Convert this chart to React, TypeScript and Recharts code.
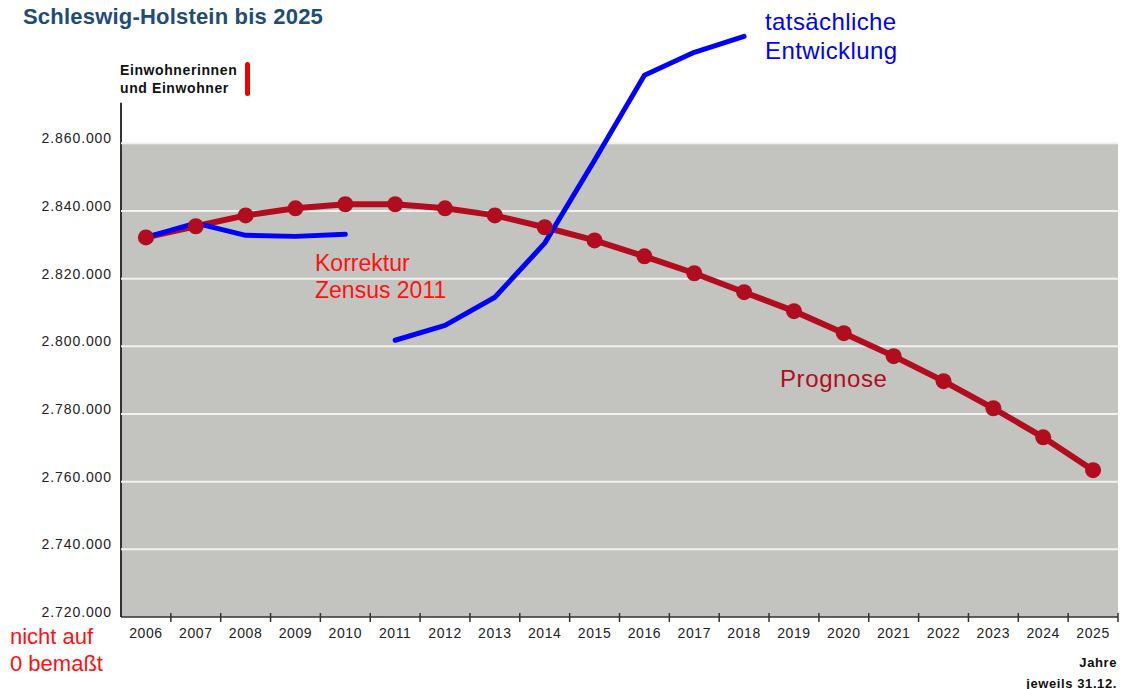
import React from "react";
import {
  LineChart,
  Line,
  XAxis,
  YAxis,
  ReferenceArea,
  ReferenceLine,
} from "recharts";

const years = [
  2006, 2007, 2008, 2009, 2010, 2011, 2012, 2013, 2014, 2015,
  2016, 2017, 2018, 2019, 2020, 2021, 2022, 2023, 2024, 2025,
];

// Prognose (dark red line with dots)
const prognose = [
  2832200, 2835500, 2838700, 2840800, 2842000, 2842000, 2840800, 2838700, 2835200, 2831300,
  2826600, 2821600, 2816000, 2810400, 2803900, 2797100, 2789700, 2781700, 2773100, 2763400,
];

// tatsächliche Entwicklung, before the census correction
const actualBefore = [
  2832200, 2836400, 2832800, 2832500, 2833100, null, null, null, null, null,
  null, null, null, null, null, null, null, null, null, null,
];

// tatsächliche Entwicklung, after Zensus 2011
const actualAfter = [
  null, null, null, null, null, 2801800, 2806200, 2814500, 2830500, 2855000,
  2880100, 2886900, 2891600, null, null, null, null, null, null, null,
];

const yTicks = [2720000, 2740000, 2760000, 2780000, 2800000, 2820000, 2840000, 2860000];
const gridValues = [2740000, 2760000, 2780000, 2800000, 2820000, 2840000, 2860000];

const data = years.map((year, i) => ({
  year,
  prognose: prognose[i],
  actualBefore: actualBefore[i],
  actualAfter: actualAfter[i],
}));

const W = 1124;
const H = 689;
const margin = { top: 8, right: 6, left: 8, bottom: 42 };
const yAxisWidth = 113;
const halfBand = (W - margin.left - margin.right - yAxisWidth) / years.length / 2;

const RED = "#b10d1f";
const BLUE = "#0000ff";
const TEXT_RED = "#ff1111";
const FONT = "'Liberation Sans', Arial, sans-serif";

const fmt = (v: number) => String(v).replace(/\B(?=(\d{3})+(?!\d))/g, ".");

const YearTick = ({ x, y, payload }: any) => (
  <g>
    <line x1={x + halfBand} x2={x + halfBand} y1={y - 4} y2={y + 5} stroke="#333" strokeWidth={1.5} />
    <text x={x} y={y + 16} textAnchor="middle" dominantBaseline="central" fill="#222" fontSize={14} letterSpacing={0.6} fontFamily={FONT}>
      {payload.value}
    </text>
  </g>
);

const ValueTick = ({ x, y, payload }: any) => (
  <text x={x} y={y - 5} textAnchor="end" dominantBaseline="central" fill="#222" fontSize={14} letterSpacing={0.9} fontFamily={FONT}>
    {fmt(payload.value)}
  </text>
);

const AxisEdge = (p: any) => (
  <line x1={p.x} x2={p.x} y1={p.y} y2={p.y + p.height} stroke="#333" strokeWidth={2} />
);

const label = (style: React.CSSProperties): React.CSSProperties => ({
  position: "absolute",
  whiteSpace: "nowrap",
  fontFamily: FONT,
  ...style,
});

export default function App() {
  return (
    <div style={{ position: "relative", width: W, height: H, background: "#fff", fontFamily: FONT }}>
      <style>{"body{margin:0}"}</style>
      <LineChart width={W} height={H} data={data} margin={margin}>
        <XAxis
          dataKey="year"
          type="number"
          domain={[2005.5, 2025.5]}
          ticks={years}
          axisLine={{ stroke: "#333", strokeWidth: 1.5 }}
          tickLine={false}
          tickSize={0}
          tickMargin={0}
          height={30}
          interval={0}
          tick={<YearTick />}
        />
        <YAxis
          type="number"
          width={yAxisWidth}
          domain={[2720000, 2900000]}
          ticks={yTicks}
          allowDataOverflow
          axisLine={false}
          tickLine={false}
          tickSize={0}
          tickMargin={9}
          tick={<ValueTick />}
        />
        <ReferenceArea y1={2720000} y2={2860000} fill="#c3c4bf" fillOpacity={1} stroke="none" />
        {gridValues.map((v) => (
          <ReferenceLine key={v} y={v} stroke="#f1f1ef" strokeWidth={2} />
        ))}
        <ReferenceArea y1={2720000} y2={2872000} shape={AxisEdge} />
        <Line
          dataKey="prognose"
          stroke={RED}
          strokeWidth={6}
          dot={{ r: 8, fill: RED, stroke: RED, strokeWidth: 0 }}
          activeDot={false}
          isAnimationActive={false}
        />
        <Line
          dataKey="actualBefore"
          stroke={BLUE}
          strokeWidth={5}
          strokeLinecap="round"
          strokeLinejoin="round"
          dot={false}
          activeDot={false}
          isAnimationActive={false}
        />
        <Line
          dataKey="actualAfter"
          stroke={BLUE}
          strokeWidth={5}
          strokeLinecap="round"
          strokeLinejoin="round"
          dot={false}
          activeDot={false}
          isAnimationActive={false}
        />
      </LineChart>

      <div style={label({ left: 23, top: 5, fontSize: 22, lineHeight: "24px", fontWeight: 700, color: "#1d4d78", letterSpacing: 0.2 })}>
        Schleswig-Holstein bis 2025
      </div>
      <div style={label({ left: 120, top: 61, fontSize: 14, lineHeight: "18px", fontWeight: 700, color: "#111", letterSpacing: 0.6 })}>
        Einwohnerinnen<br />und Einwohner
      </div>
      <div style={{ position: "absolute", left: 245, top: 62, width: 5, height: 34, borderRadius: 3, background: "#ee0000" }} />
      <div style={label({ left: 315, top: 250, fontSize: 23, lineHeight: "27px", color: TEXT_RED })}>
        Korrektur<br />Zensus 2011
      </div>
      <div style={label({ left: 765, top: 7, fontSize: 24, lineHeight: "29px", color: BLUE, letterSpacing: 0.4 })}>
        tatsächliche<br />Entwicklung
      </div>
      <div style={label({ left: 780, top: 364, fontSize: 24, lineHeight: "29px", color: RED, letterSpacing: 0.6 })}>
        Prognose
      </div>
      <div style={label({ left: 10, top: 623, fontSize: 22, lineHeight: "27px", color: TEXT_RED })}>
        nicht auf<br />0 bemaßt
      </div>
      <div style={label({ right: 7, top: 652, fontSize: 13, lineHeight: "21px", fontWeight: 700, color: "#111", textAlign: "right", letterSpacing: 0.6 })}>
        Jahre<br />jeweils 31.12.
      </div>
    </div>
  );
}
